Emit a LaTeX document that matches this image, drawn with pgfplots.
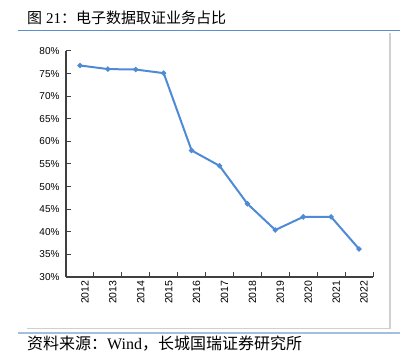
\documentclass[border=0pt]{standalone}
\usepackage{fontspec}
\setmainfont{Liberation Sans}
\newfontfamily\cjk{Noto Sans CJK SC}
\newfontfamily\serif{Liberation Serif}
\usepackage{pgfplots}
\pgfplotsset{compat=1.18}
\definecolor{linecol}{HTML}{4F8AD6}
\definecolor{titleline}{HTML}{5B8FCC}
\definecolor{srcline}{HTML}{A3BFE0}
\definecolor{framegray}{HTML}{D0D0D0}
\definecolor{axisgray}{HTML}{404040}
\begin{document}
\begin{tikzpicture}[x=1bp,y=1bp]
\useasboundingbox (0,0) rectangle (412,357);
% title
\node[anchor=west,inner sep=0pt,font=\fontsize{15bp}{17bp}\selectfont] at (27,339.5) {{\cjk 图}\hspace{4bp}{\serif 21}{\cjk ：电子数据取证业务占比}};
\draw[titleline,line width=1.2bp] (18,326.5) -- (400,326.5);
% frame lines
\draw[framegray,line width=2bp] (390,324) -- (390,28);
\draw[framegray,line width=1bp] (27,28) -- (390,28);
\draw[srcline,line width=1.5bp] (18,24) -- (400,24);
% source
\node[anchor=west,inner sep=0pt,font=\fontsize{16bp}{18bp}\selectfont] at (27,13) {{\cjk 资料来源：}{\serif Wind}{\cjk ，长城国瑞证券研究所}};
\begin{axis}[
  at={(66bp,80bp)}, anchor=south west,
  scale only axis, width=307bp, height=226bp,
  xmin=-0.5, xmax=10.5, ymin=30, ymax=80,
  axis lines*=left,
  axis line style={axisgray,line width=1.3bp},
  xtick={-0.5,0.5,...,10.5},
  xticklabels={},
  extra x ticks={0,1,2,3,4,5,6,7,8,9,10},
  extra x tick labels={2012,2013,2014,2015,2016,2017,2018,2019,2020,2021,2022},
  extra x tick style={major tick length=0pt, ticklabel style={rotate=90,anchor=east,font=\fontsize{10.5bp}{12bp}\selectfont}},
  ytick={30,35,...,80},
  yticklabel={\pgfmathprintnumber{\tick}\%},
  tick align=inside,
  major tick length=4.5bp,
  tick style={axisgray,line width=1bp},
  tick label style={font=\fontsize{10bp}{12bp}\selectfont, text=black},
  /pgf/number format/assume math mode=true,
  xticklabel style={yshift=-5bp},
  yticklabel style={xshift=-3bp},
  clip=false,
]
\addplot[linecol, line width=2bp, mark=*, mark size=1.5bp, mark options={fill=linecol,draw=linecol}]
coordinates {(0,76.8) (1,76.0) (2,75.9) (3,75.1) (4,58.0) (5,54.6) (6,46.2) (7,40.4) (8,43.3) (9,43.3) (10,36.2)};
\end{axis}
\end{tikzpicture}
\end{document}
